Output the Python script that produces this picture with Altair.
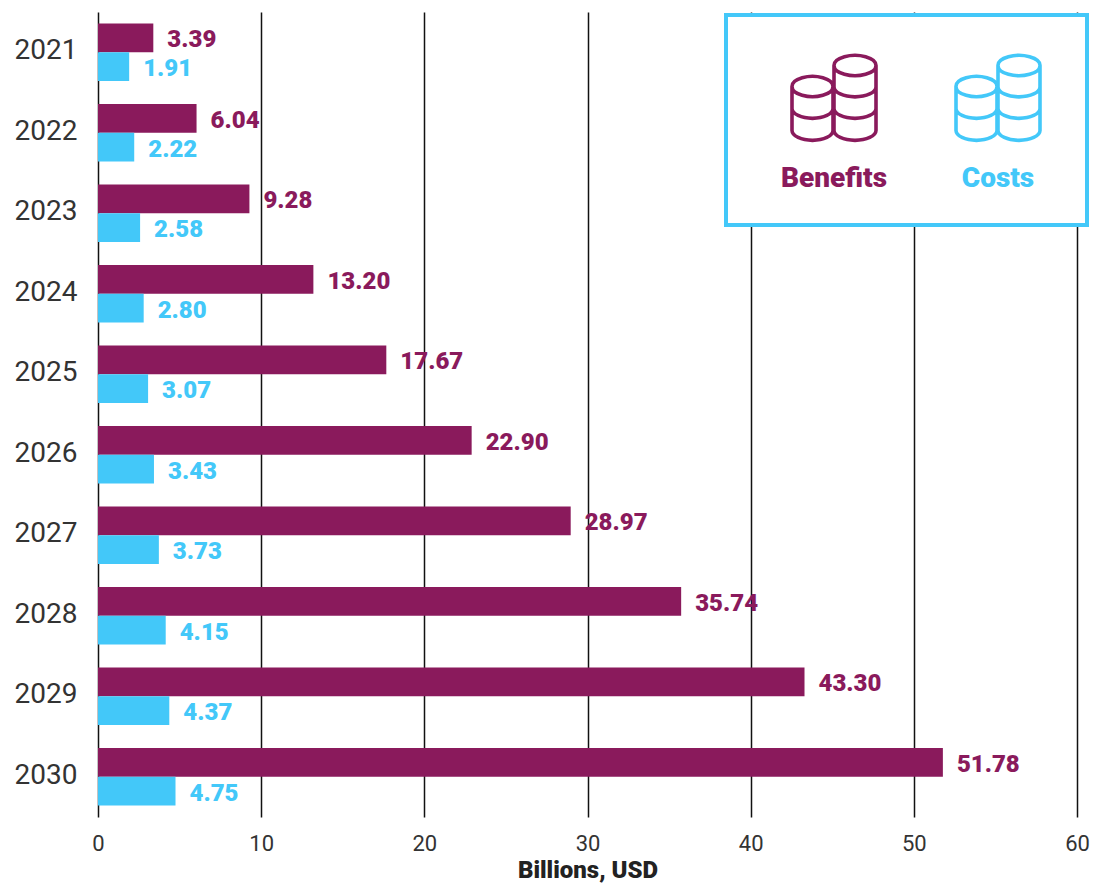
import altair as alt
import pandas as pd

years = ["2021", "2022", "2023", "2024", "2025", "2026", "2027", "2028", "2029", "2030"]
benefits = [3.39, 6.04, 9.28, 13.20, 17.67, 22.90, 28.97, 35.74, 43.30, 51.78]
costs = [1.91, 2.22, 2.58, 2.80, 3.07, 3.43, 3.73, 4.15, 4.37, 4.75]
series_names = ["Benefits", "Costs"]
colors = ["#8A1A5C", "#43C8F9"]
FONT = "Roboto"

df = pd.DataFrame(
    [{"year": y, "series": "Benefits", "value": v} for y, v in zip(years, benefits)]
    + [{"year": y, "series": "Costs", "value": v} for y, v in zip(years, costs)]
)
df["label"] = df["value"].map(lambda v: f"{v:.2f}")

x_enc = alt.X(
    "value:Q",
    scale=alt.Scale(domain=[0, 60], nice=False),
    axis=alt.Axis(
        values=[0, 10, 20, 30, 40, 50, 60],
        title="Billions, USD",
        titleFont=FONT, titleFontSize=24, titleFontWeight=900, titleColor="#222222",
        titlePadding=4,
        labelFont=FONT, labelFontSize=22, labelColor="#333333", labelPadding=16,
        labelFlush=False,
        grid=True, gridColor="#111111", gridWidth=1.5,
        domain=False, ticks=False,
    ),
)
y_enc = alt.Y(
    "year:N",
    sort=years,
    scale=alt.Scale(paddingInner=0.286, paddingOuter=0.143),
    axis=alt.Axis(
        title=None,
        labelFont=FONT, labelFontSize=28, labelColor="#333333", labelPadding=21,
        labelOffset=-1, grid=False, domain=False, ticks=False,
    ),
)
yoff = alt.YOffset("series:N", sort=series_names)
col = alt.Color(
    "series:N",
    scale=alt.Scale(domain=series_names, range=colors),
    legend=None,
)

bars = alt.Chart(df).mark_bar(size=28.75, cornerRadius=0).encode(x=x_enc, y=y_enc, yOffset=yoff, color=col)
labels = (
    alt.Chart(df)
    .mark_text(align="left", baseline="middle", dx=14, dy=2.5, font=FONT, fontSize=24, fontWeight=900)
    .encode(x=x_enc, y=y_enc, yOffset=yoff, color=col, text="label:N")
)

one = pd.DataFrame({"k": [0]})
panel = alt.Chart(one).mark_rect(fill="white", stroke=colors[1], strokeWidth=4).encode(
    x=alt.value(628), x2=alt.value(989), y=alt.value(3), y2=alt.value(213)
)


def coin_path():
    s = 43.5
    cx, cy = 834.0, 97.5
    def X(v): return f"{(v - cx) / s:.4f}"
    def Y(v): return f"{(v - cy) / s:.4f}"
    def R(v): return f"{v / s:.4f}"
    parts = []
    for xc, top, rx, ry, levels in [
        (812.5, 86.5, 20.5, 10, [108.5, 130.5]),
        (855.0, 65.5, 21.0, 10, [87.0, 108.5, 130.5]),
    ]:
        l, r = xc - rx, xc + rx
        parts.append(f"M{X(l)},{Y(top)}A{R(rx)},{R(ry)} 0 1 1 {X(r)},{Y(top)}A{R(rx)},{R(ry)} 0 1 1 {X(l)},{Y(top)}Z")
        parts.append(f"M{X(l)},{Y(top)}L{X(l)},{Y(levels[-1])}")
        parts.append(f"M{X(r)},{Y(top)}L{X(r)},{Y(levels[-1])}")
        for lv in levels:
            parts.append(f"M{X(l)},{Y(lv)}A{R(rx)},{R(ry)} 0 0 0 {X(r)},{Y(lv)}")
    return "".join(parts)


SHAPE = coin_path()
SIZE = 87 ** 2


def icon(px, color):
    return alt.Chart(one).mark_point(shape=SHAPE, filled=False, size=SIZE, stroke=color, strokeWidth=3.6, opacity=1).encode(
        x=alt.value(px), y=alt.value(85.5)
    )


def caption(text, px, color):
    return alt.Chart(one).mark_text(
        text=text, font=FONT, fontSize=28, fontWeight=900, color=color, align="center", baseline="middle"
    ).encode(x=alt.value(px), y=alt.value(167))


chart = (
    alt.layer(
        bars, labels, panel,
        icon(736, colors[0]), icon(900, colors[1]),
        caption(series_names[0], 736, colors[0]), caption(series_names[1], 900, colors[1]),
    )
    .resolve_scale(color="shared")
    .properties(
        width=979, height=805,
        autosize=alt.AutoSizeParams(type="none"),
        padding={"left": 90, "top": 4, "right": 13, "bottom": 68},
    )
    .configure_view(strokeWidth=0, strokeOpacity=0)
)

chart.save("out.html", embed_options={"renderer": "svg", "actions": False})
